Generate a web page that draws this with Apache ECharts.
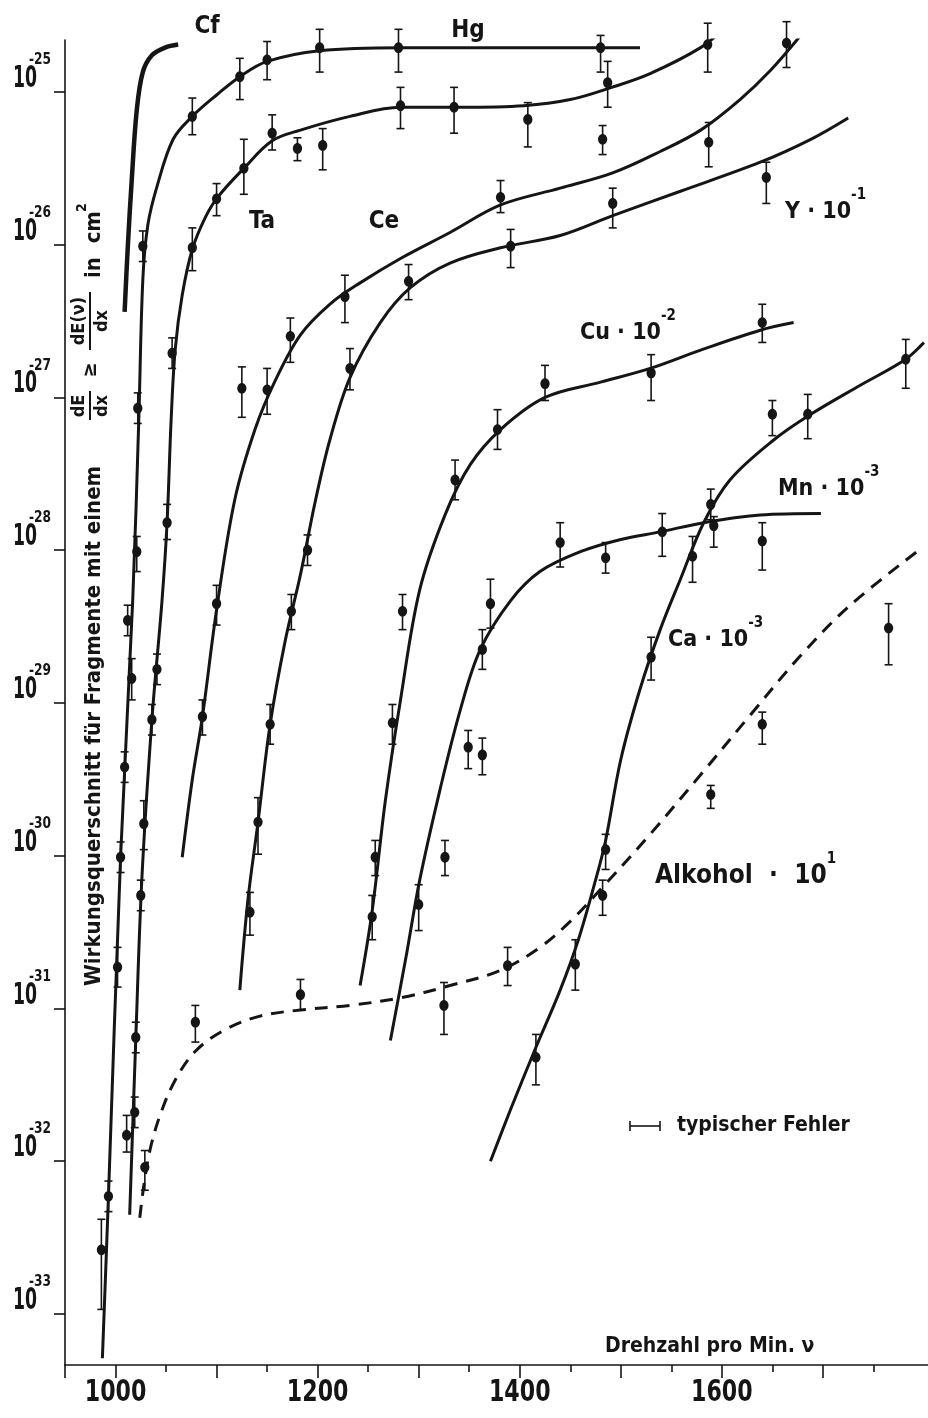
<!DOCTYPE html>
<html>
<head>
<meta charset="utf-8">
<title>Wirkungsquerschnitt</title>
<script src="https://cdn.jsdelivr.net/npm/echarts@6/dist/echarts.min.js"></script>
<style>
html, body { margin: 0; padding: 0; background: #fff; }
#chart { width: 928px; height: 1418px; }
</style>
</head>
<body>
<div id="chart"></div>
<script>
// Kurven: [Drehzahl pro Min., log10 Wirkungsquerschnitt in cm^2]
const cfCurve = [[1009,-26.44],[1012,-26.03],[1016,-25.58],[1021,-25.12],[1027,-24.87],[1036,-24.76],[1049,-24.71],[1062,-24.69]];
const hgCurve = [[987,-33.29],[993,-32.23],[1005,-30.01],[1017,-28.33],[1023,-27.15],[1027,-26.23],[1032,-25.87],[1041,-25.62],[1057,-25.31],[1076,-25.16],[1100,-25.02],[1123,-24.90],[1150,-24.80],[1202,-24.73],[1282,-24.71],[1400,-24.71],[1519,-24.71]];
const taCurve = [[1014,-32.35],[1020,-31.21],[1026,-30.16],[1036,-29.11],[1046,-28.33],[1051,-27.82],[1055,-27.15],[1059,-26.69],[1066,-26.33],[1076,-26.03],[1089,-25.82],[1101,-25.69],[1127,-25.50],[1155,-25.32],[1183,-25.25],[1232,-25.16],[1282,-25.10],[1341,-25.10],[1404,-25.09],[1450,-25.05],[1491,-24.97],[1529,-24.88],[1579,-24.71],[1603,-24.58]];
const ceCurve = [[1066,-30.01],[1076,-29.50],[1086,-29.09],[1100,-28.39],[1118,-27.67],[1138,-27.21],[1158,-26.89],[1183,-26.59],[1212,-26.39],[1242,-26.25],[1282,-26.09],[1331,-25.92],[1381,-25.74],[1440,-25.63],[1492,-25.53],[1539,-25.39],[1579,-25.25],[1618,-25.05],[1648,-24.86],[1678,-24.63]];
const yCurve = [[1123,-30.88],[1131,-30.29],[1141,-29.78],[1153,-29.14],[1168,-28.59],[1183,-28.16],[1198,-27.67],[1212,-27.28],[1232,-26.87],[1262,-26.51],[1292,-26.28],[1331,-26.12],[1381,-26.02],[1440,-25.94],[1492,-25.81],[1559,-25.65],[1638,-25.46],[1688,-25.31],[1725,-25.17]];
const cuCurve = [[1242,-30.85],[1254,-30.36],[1267,-29.64],[1282,-28.98],[1301,-28.26],[1326,-27.77],[1351,-27.44],[1381,-27.21],[1425,-27.00],[1480,-26.90],[1529,-26.81],[1579,-26.69],[1638,-26.56],[1671,-26.51]];
const mnCurve = [[1272,-31.21],[1287,-30.68],[1301,-30.16],[1321,-29.57],[1341,-29.05],[1361,-28.65],[1391,-28.33],[1420,-28.14],[1460,-28.01],[1500,-27.93],[1539,-27.88],[1582,-27.82],[1638,-27.77],[1698,-27.76]];
const caCurve = [[1371,-32.00],[1391,-31.66],[1415,-31.27],[1440,-30.88],[1458,-30.55],[1475,-30.16],[1485,-29.90],[1500,-29.37],[1519,-28.91],[1539,-28.52],[1559,-28.19],[1582,-27.82],[1608,-27.54],[1651,-27.28],[1688,-27.11],[1737,-26.92],[1782,-26.75],[1800,-26.64]];
const alkoholCurve = [[1024,-32.37],[1028,-32.16],[1034,-31.93],[1044,-31.70],[1059,-31.47],[1079,-31.28],[1108,-31.14],[1143,-31.05],[1183,-31.01],[1232,-30.98],[1282,-30.93],[1331,-30.85],[1381,-30.75],[1420,-30.60],[1450,-30.43],[1480,-30.22],[1529,-29.86],[1579,-29.47],[1628,-29.08],[1678,-28.69],[1727,-28.36],[1799,-27.98]];

// Messpunkte: [Drehzahl, log10 sigma, untere Fehlergrenze, obere Fehlergrenze]
const hgPoints = [[986,-32.58,-32.97,-32.38],[993,-32.23,-32.33,-32.13],[1002,-30.73,-30.86,-30.60],[1005,-30.01,-30.11,-29.91],[1009,-29.42,-29.52,-29.32],[1016,-28.84,-28.98,-28.71],[1012,-28.46,-28.56,-28.36],[1021,-28.01,-28.14,-27.91],[1022,-27.07,-27.17,-26.97],[1027,-26.01,-26.11,-25.91],[1076,-25.16,-25.28,-25.04],[1123,-24.90,-25.05,-24.78],[1150,-24.79,-24.92,-24.67],[1202,-24.71,-24.87,-24.59],[1280,-24.71,-24.87,-24.59],[1480,-24.71,-24.87,-24.63]];
const taPoints = [[1011,-31.83,-31.94,-31.70],[1019,-31.68,-31.78,-31.58],[1020,-31.19,-31.29,-31.09],[1025,-30.26,-30.36,-30.16],[1028,-29.79,-29.96,-29.64],[1036,-29.11,-29.21,-29.01],[1041,-28.78,-28.88,-28.68],[1051,-27.82,-27.93,-27.70],[1056,-26.71,-26.81,-26.61],[1076,-26.02,-26.17,-25.89],[1100,-25.70,-25.81,-25.60],[1127,-25.50,-25.67,-25.31],[1155,-25.27,-25.38,-25.15],[1180,-25.37,-25.45,-25.30],[1205,-25.35,-25.51,-25.24],[1282,-25.09,-25.24,-24.97],[1335,-25.10,-25.27,-24.97],[1408,-25.18,-25.36,-25.07],[1482,-25.31,-25.41,-25.22],[1487,-24.94,-25.10,-24.80],[1586,-24.69,-24.87,-24.55]];
const cePoints = [[1086,-29.09,-29.21,-28.98],[1100,-28.35,-28.49,-28.23],[1125,-26.94,-27.13,-26.80],[1150,-26.95,-27.11,-26.81],[1173,-26.60,-26.77,-26.48],[1227,-26.34,-26.51,-26.20],[1381,-25.69,-25.79,-25.58],[1587,-25.33,-25.49,-25.20],[1664,-24.68,-24.84,-24.54]];
const yPoints = [[1133,-30.37,-30.52,-30.24],[1141,-29.78,-29.99,-29.62],[1153,-29.14,-29.27,-29.01],[1174,-28.40,-28.52,-28.29],[1190,-28.00,-28.10,-27.90],[1232,-26.81,-26.95,-26.68],[1290,-26.24,-26.36,-26.13],[1391,-26.01,-26.15,-25.90],[1492,-25.73,-25.89,-25.63],[1644,-25.56,-25.73,-25.46]];
const cuPoints = [[1254,-30.40,-30.55,-30.26],[1257,-30.01,-30.13,-29.90],[1274,-29.13,-29.27,-29.01],[1284,-28.40,-28.52,-28.29],[1336,-27.54,-27.67,-27.41],[1378,-27.21,-27.34,-27.08],[1425,-26.91,-27.02,-26.79],[1530,-26.84,-27.02,-26.72],[1640,-26.51,-26.64,-26.39]];
const mnPoints = [[1300,-30.32,-30.49,-30.19],[1326,-30.01,-30.13,-29.90],[1349,-29.29,-29.43,-29.18],[1363,-29.34,-29.47,-29.23],[1363,-28.65,-28.78,-28.52],[1371,-28.35,-28.51,-28.19],[1440,-27.95,-28.11,-27.82],[1485,-28.05,-28.15,-27.95],[1541,-27.88,-28.04,-27.76],[1592,-27.84,-27.98,-27.78],[1640,-27.94,-28.13,-27.82]];
const caPoints = [[1416,-31.32,-31.50,-31.17],[1455,-30.71,-30.88,-30.55],[1485,-29.96,-30.09,-29.86],[1530,-28.70,-28.85,-28.57],[1571,-28.04,-28.21,-27.91],[1589,-27.70,-27.80,-27.60],[1650,-27.11,-27.25,-27.02],[1685,-27.11,-27.27,-26.98],[1782,-26.75,-26.94,-26.62]];
const alkoholPoints = [[1029,-32.04,-32.19,-31.93],[1079,-31.09,-31.22,-30.98],[1183,-30.91,-31.01,-30.81],[1325,-30.98,-31.17,-30.83],[1388,-30.72,-30.85,-30.60],[1482,-30.26,-30.39,-30.16],[1589,-29.60,-29.69,-29.54],[1640,-29.14,-29.27,-29.06],[1765,-28.51,-28.75,-28.35]];

// Achsen
const xLongTicks = [950, 1000, 1100, 1200, 1300, 1400, 1500, 1600, 1700];
const xShortTicks = [1050, 1150, 1250, 1350, 1450, 1550, 1650, 1750];
const xLabels = [1000, 1200, 1400, 1600];
const yDecades = [-33, -32, -31, -30, -29, -28, -27, -26, -25];

const INK = '#151515';
const FONT = "'DejaVu Sans Condensed', 'DejaVu Sans', sans-serif";

let chart = echarts.init(document.getElementById('chart'));

function curveSeries(data, dashed) {
    return {
        type: 'line',
        data: data,
        smooth: 0.35,
        showSymbol: false,
        silent: true,
        lineStyle: { color: INK, width: 3, type: dashed ? [13, 9] : 'solid', cap: 'butt' },
        z: 2
    };
}

function pointSeries(data) {
    return {
        type: 'custom',
        data: data,
        encode: { x: 0, y: 1 },
        silent: true,
        z: 3,
        renderItem: function (params, api) {
            let v = api.value(0);
            let c = api.coord([v, api.value(1)]);
            let lo = api.coord([v, api.value(2)]);
            let hi = api.coord([v, api.value(3)]);
            let st = { stroke: INK, lineWidth: 1.6 };
            return {
                type: 'group',
                children: [
                    { type: 'line', shape: { x1: c[0], y1: hi[1], x2: c[0], y2: lo[1] }, style: st },
                    { type: 'line', shape: { x1: c[0] - 4, y1: hi[1], x2: c[0] + 4, y2: hi[1] }, style: st },
                    { type: 'line', shape: { x1: c[0] - 4, y1: lo[1], x2: c[0] + 4, y2: lo[1] }, style: st },
                    { type: 'ellipse', shape: { cx: c[0], cy: c[1], rx: 4.6, ry: 5.4 }, style: { fill: INK } }
                ]
            };
        }
    };
}

// Beschriftungen mit Exponent
function supLabel(base, exp, x, y, size) {
    size = size || 23;
    return {
        type: 'text',
        x: x, y: y,
        style: {
            text: '{b|' + base + '}{s|' + exp + '}',
            align: 'left',
            verticalAlign: 'middle',
            rich: {
                b: { fontSize: size, fontWeight: 'bold', fontFamily: FONT, fill: INK, color: INK, lineHeight: 48 },
                s: { fontSize: 15, fontWeight: 'bold', fontFamily: FONT, fill: INK, color: INK, verticalAlign: 'top', lineHeight: 15 }
            }
        }
    };
}

function plainLabel(text, x, y, size, align) {
    return {
        type: 'text',
        x: x, y: y,
        style: {
            text: text,
            font: 'bold ' + size + 'px ' + FONT,
            fill: INK,
            align: align || 'center',
            verticalAlign: 'middle'
        }
    };
}

// Achsenbeschriftung (senkrecht)
let mainText = 'Wirkungsquerschnitt für Fragmente mit einem';
let measure = document.createElement('canvas').getContext('2d');
measure.font = 'bold 20px ' + FONT;
let mainSize = Math.min(22, 20 * 548 / measure.measureText(mainText).width);
let fracFont = 'bold 18px ' + FONT;

let yNameGroup = {
    type: 'group',
    x: 94, y: 986,
    rotation: Math.PI / 2,
    children: [
        { type: 'text', style: { text: mainText, x: 0, y: 0, font: 'bold ' + mainSize + 'px ' + FONT, fill: INK, align: 'left', verticalAlign: 'middle' } },
        { type: 'text', style: { text: 'dE', x: 580, y: -15, font: fracFont, fill: INK, align: 'center', verticalAlign: 'middle' } },
        { type: 'line', shape: { x1: 566, y1: -4, x2: 595, y2: -4 }, style: { stroke: INK, lineWidth: 2 } },
        { type: 'text', style: { text: 'dx', x: 580, y: 8, font: fracFont, fill: INK, align: 'center', verticalAlign: 'middle' } },
        { type: 'text', style: { text: '≥', x: 616, y: -3, font: 'bold 20px ' + FONT, fill: INK, align: 'center', verticalAlign: 'middle' } },
        { type: 'text', style: { text: 'dE(ν)', x: 665, y: -15, font: fracFont, fill: INK, align: 'center', verticalAlign: 'middle' } },
        { type: 'line', shape: { x1: 636, y1: -4, x2: 694, y2: -4 }, style: { stroke: INK, lineWidth: 2 } },
        { type: 'text', style: { text: 'dx', x: 665, y: 8, font: fracFont, fill: INK, align: 'center', verticalAlign: 'middle' } },
        { type: 'text', style: { text: 'in  cm', x: 708, y: 0, font: 'bold ' + mainSize + 'px ' + FONT, fill: INK, align: 'left', verticalAlign: 'middle' } },
        { type: 'text', style: { text: '2', x: 774, y: -12, font: 'bold 14px ' + FONT, fill: INK, align: 'left', verticalAlign: 'middle' } }
    ]
};

let graphics = [
    yNameGroup,
    plainLabel('Cf', 207, 27, 24),
    plainLabel('Hg', 468, 31, 24),
    plainLabel('Ta', 262, 222, 24),
    plainLabel('Ce', 384, 222, 24),
    supLabel('Y · 10', '-1', 785, 212),
    supLabel('Cu · 10', '-2', 580, 333),
    supLabel('Mn · 10', '-3', 778, 489),
    supLabel('Ca · 10', '-3', 668, 640),
    supLabel('Alkohol  ·  10', '1', 655, 876, 26),
    { type: 'line', shape: { x1: 630, y1: 1126, x2: 660, y2: 1126 }, style: { stroke: INK, lineWidth: 1.6 } },
    { type: 'line', shape: { x1: 630, y1: 1121, x2: 630, y2: 1131 }, style: { stroke: INK, lineWidth: 1.6 } },
    { type: 'line', shape: { x1: 660, y1: 1121, x2: 660, y2: 1131 }, style: { stroke: INK, lineWidth: 1.6 } },
    plainLabel('typischer Fehler', 677, 1126, 21, 'left'),
    plainLabel('Drehzahl pro Min. ν', 605, 1347, 21, 'left')
];

let option = {
    animation: false,
    backgroundColor: '#fff',
    grid: { left: 65, right: 0, top: 40, bottom: 53, containLabel: false, outerBoundsMode: 'none' },
    xAxis: [
        {
            type: 'value',
            min: 950,
            max: 1804,
            position: 'bottom',
            splitLine: { show: false },
            axisLine: { show: true, onZero: false, lineStyle: { color: INK, width: 1.6 } },
            axisTick: { show: true, customValues: xLongTicks, length: 13, lineStyle: { color: INK, width: 1.6 } },
            axisLabel: { show: false }
        },
        {
            type: 'value',
            min: 950,
            max: 1804,
            position: 'bottom',
            splitLine: { show: false },
            axisLine: { show: false, onZero: false },
            axisTick: { show: true, customValues: xShortTicks, length: 7, lineStyle: { color: INK, width: 1.6 } },
            axisLabel: { show: false }
        }
    ],
    yAxis: {
        type: 'value',
        min: -33.334,
        max: -24.66,
        splitLine: { show: false },
        axisLine: { show: true, onZero: false, lineStyle: { color: INK, width: 1.6 } },
        axisTick: { show: true, customValues: yDecades, length: 11, lineStyle: { color: INK, width: 1.6 } },
        axisLabel: { show: false }
    },
    graphic: graphics,
    series: [
        Object.assign(curveSeries(cfCurve, false), { lineStyle: { color: INK, width: 4.5 } }),
        curveSeries(hgCurve, false),
        curveSeries(taCurve, false),
        curveSeries(ceCurve, false),
        curveSeries(yCurve, false),
        curveSeries(cuCurve, false),
        curveSeries(mnCurve, false),
        curveSeries(caCurve, false),
        curveSeries(alkoholCurve, true),
        pointSeries(hgPoints),
        pointSeries(taPoints),
        pointSeries(cePoints),
        pointSeries(yPoints),
        pointSeries(cuPoints),
        pointSeries(mnPoints),
        pointSeries(caPoints),
        pointSeries(alkoholPoints)
    ]
};

chart.setOption(option);

// schmale Achsenzahlen, an den Achsen ausgerichtet
let axisTexts = [];
yDecades.forEach(function (d) {
    let py = chart.convertToPixel({ yAxisIndex: 0 }, d);
    axisTexts.push({
        type: 'group',
        x: 0, y: py,
        children: [
            { type: 'text', x: 37, y: -13, scaleX: 0.62, style: { text: '10', font: 'bold 31px ' + FONT, fill: INK, align: 'right', verticalAlign: 'middle' } },
            { type: 'text', x: 29, y: -32, scaleX: 0.85, style: { text: String(d), font: 'bold 16px ' + FONT, fill: INK, align: 'left', verticalAlign: 'middle' } }
        ]
    });
});
xLabels.forEach(function (v) {
    let px = chart.convertToPixel({ xAxisIndex: 0 }, v);
    axisTexts.push({
        type: 'text', x: px, y: 1393, scaleX: 0.82,
        style: { text: String(v), font: 'bold 30px ' + FONT, fill: INK, align: 'center', verticalAlign: 'middle' }
    });
});
chart.setOption({ graphic: graphics.concat(axisTexts) });

window.addEventListener('resize', function () {
    chart.resize();
});
</script>
</body>
</html>
